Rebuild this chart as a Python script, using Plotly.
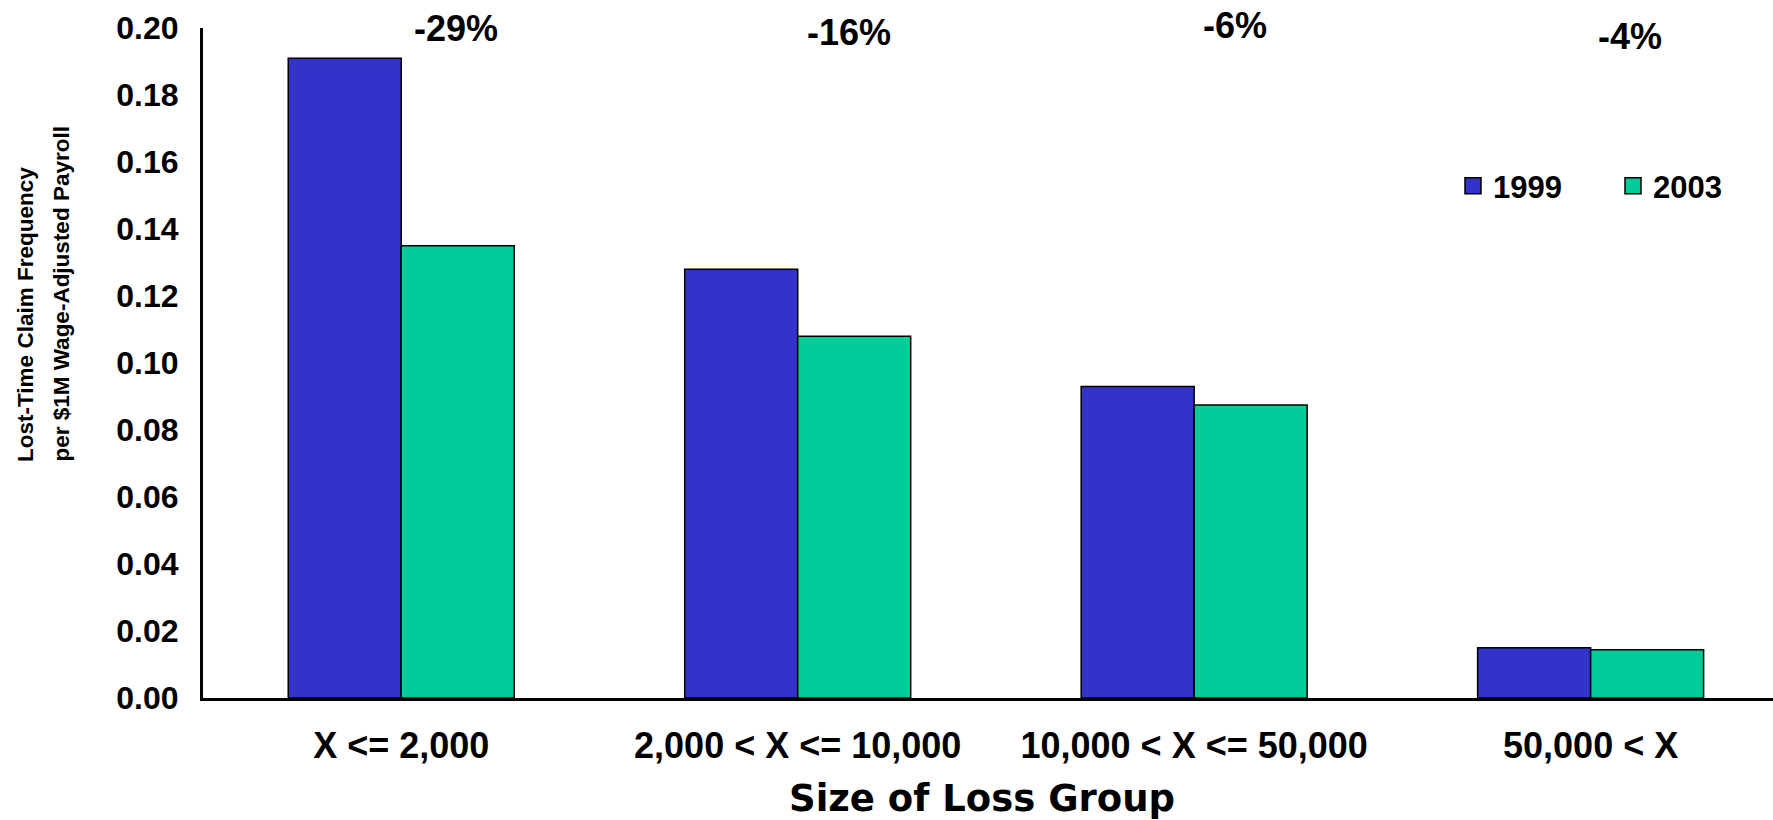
import plotly.graph_objects as go

# Loss-size groups and lost-time claim frequency per $1M wage-adjusted payroll
groups = ["X <= 2,000", "2,000 < X <= 10,000", "10,000 < X <= 50,000", "50,000 < X"]
freq_1999 = [0.191, 0.128, 0.093, 0.0150]
freq_2003 = [0.135, 0.108, 0.0875, 0.0144]
change_labels = ["-29%", "-16%", "-6%", "-4%"]

# Placement of the change labels above each group (x offset in categories, y in paper units)
label_x_offset = [0.139, 0.129, 0.103, 0.100]
label_y = [1.000, 0.993, 1.003, 0.988]

y_title_lines = ["Lost-Time Claim Frequency", "per $1M Wage-Adjusted Payroll"]
y_title_x = [-0.1134, -0.0904]
x_title = "Size of Loss Group"

y_ticks = [0.00, 0.02, 0.04, 0.06, 0.08, 0.10, 0.12, 0.14, 0.16, 0.18, 0.20]

BLUE = "#3333CC"
GREEN = "#00CC99"
ARIAL = "Liberation Sans, Arial, sans-serif"

fig = go.Figure()

fig.add_trace(go.Bar(
    x=groups, y=freq_1999, name="1999", showlegend=False,
    marker=dict(color=BLUE, line=dict(color="black", width=1.5)),
))
fig.add_trace(go.Bar(
    x=groups, y=freq_2003, name="2003", showlegend=False,
    marker=dict(color=GREEN, line=dict(color="black", width=1.5)),
))

# Legend entries with larger square swatches
for name, color in [("1999", BLUE), ("2003", GREEN)]:
    fig.add_trace(go.Scatter(
        x=[None], y=[None], mode="markers", name=name,
        marker=dict(symbol="square", size=18, color=color,
                    line=dict(color="black", width=1.5)),
    ))

for i, (lab, dx, ly) in enumerate(zip(change_labels, label_x_offset, label_y)):
    fig.add_annotation(
        x=i + dx, y=ly, xref="x", yref="paper", text=lab, showarrow=False,
        xanchor="center", yanchor="middle",
        font=dict(family=ARIAL, size=36, color="black", weight="bold"),
    )

# Two-line vertical axis title, lines aligned at their start
for line, lx in zip(y_title_lines, y_title_x):
    fig.add_annotation(
        x=lx, y=0.350, xref="paper", yref="paper", text=line,
        textangle=-90, showarrow=False, xanchor="center", yanchor="bottom",
        font=dict(family=ARIAL, size=22.5, color="black", weight="bold"),
    )

# Horizontal axis title
fig.add_annotation(
    x=0.496, y=-0.150, xref="paper", yref="paper", text=x_title,
    showarrow=False, xanchor="center", yanchor="middle",
    font=dict(family="DejaVu Sans, sans-serif", size=37, color="black", weight="bold"),
)

fig.update_layout(
    width=1773, height=820,
    margin=dict(l=203, r=0, t=28, b=122),
    plot_bgcolor="white", paper_bgcolor="white",
    barmode="group", bargap=0.43, bargroupgap=0,
    legend=dict(
        orientation="h", x=1.0, y=0.764, xanchor="right", yanchor="middle",
        font=dict(family=ARIAL, size=31, color="black", weight="bold"),
        entrywidth=115, bgcolor="rgba(0,0,0,0)",
    ),
    xaxis=dict(
        type="category", range=[-0.5, 3.46], automargin=False,
        showline=True, linecolor="black", linewidth=3,
        showgrid=False, ticks="", ticklabelstandoff=14,
        tickfont=dict(family=ARIAL, size=36, color="black", weight="bold"),
    ),
    yaxis=dict(
        range=[0, 0.2], tickvals=y_ticks, tickformat=".2f", automargin=False,
        showline=True, linecolor="black", linewidth=3,
        showgrid=False, zeroline=False, ticks="", ticklabelstandoff=15,
        tickfont=dict(family=ARIAL, size=32, color="black", weight="bold"),
    ),
)

fig.write_html("out.html")
